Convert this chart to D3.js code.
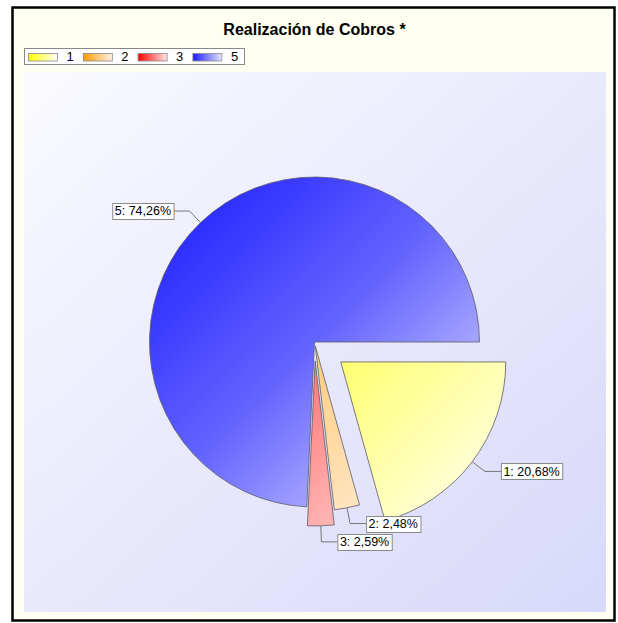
<!DOCTYPE html>
<html>
<head>
<meta charset="utf-8">
<style>
  body { margin: 0; background: #fff; font-family: 'Liberation Sans', Arial, sans-serif; }
  .lbl-box { fill: #fff; stroke: #8a8a8a; stroke-width: 1; }
  .lbl-text { font-size: 12.5px; fill: #000; }
  .leader { fill: none; stroke: #777; stroke-width: 1; }
  .slice { stroke: #5a5a66; stroke-width: 0.8; }
</style>
</head>
<body>
<div id="chart"></div>
<script src="https://cdn.jsdelivr.net/npm/d3@7"></script>
<script>
  // data
  const categories = ['1', '2', '3', '5']
  const values = [20.68, 2.48, 2.59, 74.26]
  const labels = ['1: 20,68%', '2: 2,48%', '3: 2,59%', '5: 74,26%']
  const title = 'Realización de Cobros *'

  // styling
  const baseColors = ['#ffff00', '#ff9900', '#ff0000', '#1818ff']
  const midColors = ['#ffff70', '#ffcc80', '#ff7878', '#6464ff']
  const lightColors = ['#fffff8', '#fff4e8', '#ffe8e8', '#e8e8ff']
  const explode = [33, 4, 19, 0]

  const W = 618, H = 623
  const cx = 314.5, cy = 342, r = 165

  const svg = d3.select('#chart').append('svg')
    .attr('width', W).attr('height', H)

  const defs = svg.append('defs')

  // plot background gradient
  const bg = defs.append('linearGradient').attr('id', 'bgGrad')
    .attr('x1', 0).attr('y1', 0).attr('x2', 1).attr('y2', 1)
  bg.append('stop').attr('offset', 0).attr('stop-color', '#fafaff')
  bg.append('stop').attr('offset', 1).attr('stop-color', '#d8d8fa')

  // outer frame
  svg.append('rect')
    .attr('x', 12.5).attr('y', 7.5).attr('width', 602).attr('height', 613)
    .attr('fill', '#fffff2').attr('stroke', '#000').attr('stroke-width', 2.5)

  // plot area
  svg.append('rect')
    .attr('x', 24).attr('y', 72).attr('width', 582).attr('height', 540)
    .attr('fill', 'url(#bgGrad)')

  // title
  svg.append('text')
    .attr('x', cx).attr('y', 35)
    .attr('text-anchor', 'middle')
    .style('font-size', '16px').style('font-weight', 'bold')
    .text(title)

  // legend
  const legend = svg.append('g').attr('transform', 'translate(24.5, 48.5)')
  legend.append('rect')
    .attr('width', 220).attr('height', 16)
    .attr('fill', '#fff').attr('stroke', '#888')

  categories.forEach((c, i) => {
    const lg = defs.append('linearGradient').attr('id', 'lg' + i)
      .attr('x1', 0).attr('y1', 0).attr('x2', 1).attr('y2', 0)
    lg.append('stop').attr('offset', 0).attr('stop-color', baseColors[i])
    lg.append('stop').attr('offset', 1).attr('stop-color', lightColors[i])

    const item = legend.append('g').attr('transform', `translate(${4 + i * 54.8}, 0)`)
    item.append('rect')
      .attr('x', 0).attr('y', 5).attr('width', 29).attr('height', 7.5)
      .attr('fill', `url(#lg${i})`).attr('stroke', '#888').attr('stroke-width', 0.8)
    item.append('text')
      .attr('x', 38).attr('y', 12.5)
      .style('font-size', '13px')
      .text(c)
  })

  // pie
  const pie = d3.pie().sort(null)
    .startAngle(Math.PI / 2).endAngle(Math.PI / 2 + 2 * Math.PI)
  const arcs = pie(values)
  const arc = d3.arc().innerRadius(0).outerRadius(r)

  const slices = svg.append('g')
  arcs.forEach((a, i) => {
    const mid = (a.startAngle + a.endAngle) / 2
    const dx = Math.sin(mid), dy = -Math.cos(mid)
    const ox = cx + dx * explode[i], oy = cy + dy * explode[i]

    // gradient in the slice's own (translated) coordinates
    const g = defs.append('linearGradient').attr('id', 'sg' + i)
      .attr('gradientUnits', 'userSpaceOnUse')
      .attr('x1', -r).attr('y1', -r).attr('x2', r).attr('y2', r)
    g.append('stop').attr('offset', 0).attr('stop-color', baseColors[i])
    g.append('stop').attr('offset', 0.5).attr('stop-color', midColors[i])
    g.append('stop').attr('offset', 1).attr('stop-color', lightColors[i])

    slices.append('path')
      .attr('class', 'slice')
      .attr('transform', `translate(${ox}, ${oy})`)
      .attr('d', arc(a))
      .attr('fill', `url(#sg${i})`)
  })

  // labels with leader lines
  const lab = svg.append('g')
  arcs.forEach((a, i) => {
    const mid = (a.startAngle + a.endAngle) / 2
    const dx = Math.sin(mid), dy = -Math.cos(mid)
    const d0 = r + explode[i]
    const p0 = [cx + dx * d0, cy + dy * d0]
    const p1 = [p0[0] + dx * 16, p0[1] + dy * 16]
    const side = dx >= 0 ? 1 : -1
    const p2 = [p1[0] + side * 16, p1[1]]

    lab.append('path').attr('class', 'leader')
      .attr('d', d3.line()([p0, p1, p2]))

    const t = lab.append('text').attr('class', 'lbl-text')
      .attr('y', p2[1] + 4.4)
      .text(labels[i])
    const tw = t.node().getComputedTextLength()
    const bw = tw + 5
    const bx = side > 0 ? p2[0] : p2[0] - bw
    t.attr('x', bx + 2.5)
    lab.insert('rect', () => t.node()).attr('class', 'lbl-box')
      .attr('x', bx + 0.5).attr('y', Math.round(p2[1] - 8) + 0.5)
      .attr('width', bw).attr('height', 16)
  })
</script>
</body>
</html>
